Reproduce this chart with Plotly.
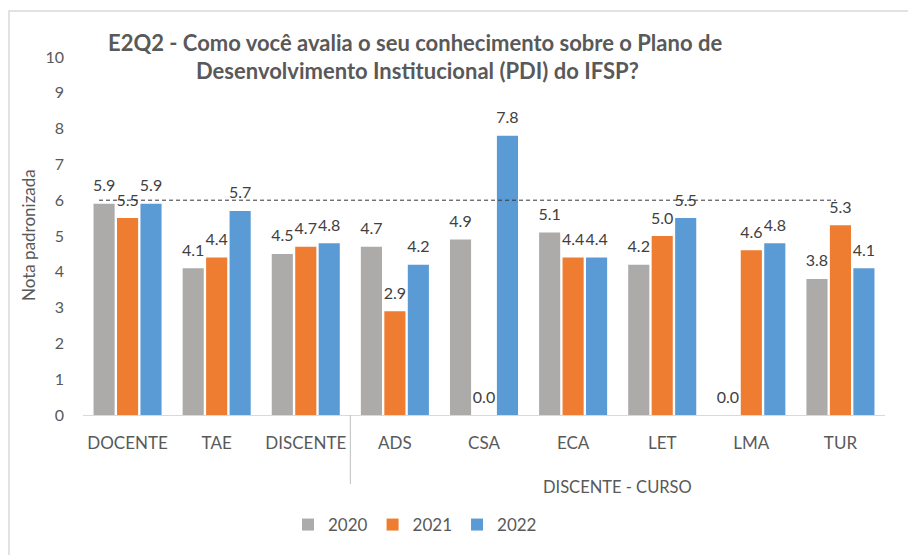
import plotly.graph_objects as go

categories = ["DOCENTE", "TAE", "DISCENTE", "ADS", "CSA", "ECA", "LET", "LMA", "TUR"]
years = ["2020", "2021", "2022"]
values_2020 = [5.9, 4.1, 4.5, 4.7, 4.9, 5.1, 4.2, 0.0, 3.8]
values_2021 = [5.5, 4.4, 4.7, 2.9, 0.0, 4.4, 5.0, 4.6, 5.3]
values_2022 = [5.9, 5.7, 4.8, 4.2, 7.8, 4.4, 5.5, 4.8, 4.1]
reference_level = 6
title_lines = ["E2Q2 - Como você avalia o seu conhecimento sobre o Plano de",
               "Desenvolvimento Institucional (PDI) do IFSP?"]
y_title = "Nota padronizada"
group_label = "DISCENTE - CURSO"

colors = ["#ADABAA", "#EE7D31", "#5B9BD5"]
FONT = "Lato"
TXT = "#595959"

OFF = 8  # page body margin
W, H = 916 - OFF, 555 - OFF
# plot area in page pixels
PL, PR, PT, PB = 83, 885, 57, 415
L, T = PL - OFF, PT - OFF
R, B = W - (PR - OFF), H - (PB - OFF)
pw, ph = PR - PL, PB - PT

def px_x(p):
    return (p - PL) / pw

def px_y(p):
    return (PB - p) / ph

fig = go.Figure()
series = list(zip(years, [values_2020, values_2021, values_2022], colors))
for name, vals, col in series:
    fig.add_trace(go.Bar(
        x=categories, y=vals, name=name, offsetgroup=name,
        marker=dict(color=col, line=dict(width=0)),
    ))
for name, vals, col in series:
    fig.add_trace(go.Scatter(
        x=categories, y=vals, offsetgroup=name, mode="markers+text",
        marker=dict(size=12, opacity=0), showlegend=False, hoverinfo="skip",
        text=[f"{v:.1f}" for v in vals], textposition="top center",
        cliponaxis=False,
        textfont=dict(family=FONT, size=16, color="#404040"),
    ))

shapes = [
    dict(type="line", xref="x", yref="y", x0=-0.32, x1=7.95,
         y0=reference_level, y1=reference_level,
         line=dict(color="#333333", width=1, dash="4px,3px")),
    dict(type="line", xref="x", yref="paper", x0=2.5, x1=2.5,
         y0=0, y1=px_y(484), line=dict(color="#BFBFBF", width=1)),
    dict(type="rect", xref="paper", yref="paper",
         x0=px_x(9), x1=px_x(930), y0=px_y(11), y1=px_y(570),
         line=dict(color="#D9D9D9", width=1.5), layer="below"),
]

annotations = [
    dict(text=title_lines[0], xref="paper", yref="paper", x=px_x(415), y=px_y(42),
         showarrow=False, xanchor="center", yanchor="middle",
         font=dict(family=FONT, size=22, color=TXT, weight="bold")),
    dict(text=title_lines[1], xref="paper", yref="paper", x=px_x(417), y=px_y(70),
         showarrow=False, xanchor="center", yanchor="middle",
         font=dict(family=FONT, size=22, color=TXT, weight="bold")),
    dict(text=y_title, xref="paper", yref="paper", x=px_x(28), y=px_y(235),
         showarrow=False, textangle=-90, xanchor="center", yanchor="middle",
         font=dict(family=FONT, size=17, color=TXT)),
    dict(text=group_label, xref="x", yref="paper", x=5.5, y=px_y(487),
         showarrow=False, xanchor="center", yanchor="middle",
         font=dict(family=FONT, size=16.5, color=TXT)),
]

fig.update_layout(
    width=W, height=H,
    margin=dict(l=L, r=R, t=T, b=B),
    paper_bgcolor="white", plot_bgcolor="white",
    barmode="group", bargap=0.21, bargroupgap=0.1,
    scattermode="group", scattergap=0.21,
    showlegend=True,
    legend=dict(orientation="h", x=px_x(415), xanchor="center",
                y=px_y(525), yanchor="middle",
                font=dict(family=FONT, size=17, color=TXT)),
    shapes=shapes, annotations=annotations,
    font=dict(family=FONT, color=TXT),
)
fig.update_xaxes(showline=True, linecolor="#D9D9D9", linewidth=1, showgrid=False,
                 ticks="", tickfont=dict(family=FONT, size=17, color=TXT),
                 ticklabelstandoff=13)
fig.update_yaxes(range=[0, 10], dtick=1, showgrid=False, showline=False, zeroline=False,
                 ticks="", tickfont=dict(family=FONT, size=16, color=TXT),
                 ticklabelstandoff=18, tickformat="d")

fig.write_html("out.html")
